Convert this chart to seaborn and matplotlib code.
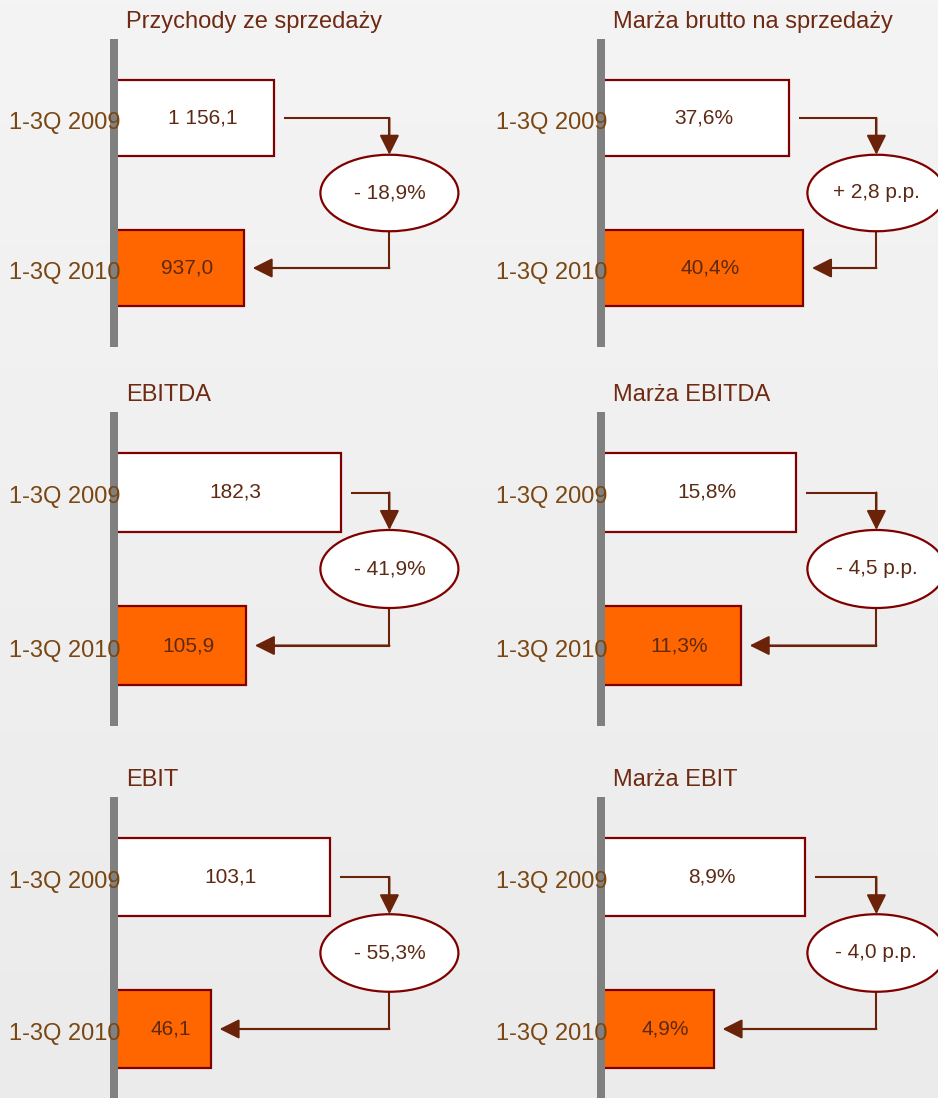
import numpy as np
import pandas as pd
import matplotlib
matplotlib.use("Agg")
import matplotlib.pyplot as plt
from matplotlib.colors import LinearSegmentedColormap
from matplotlib.patches import Ellipse
from matplotlib.transforms import blended_transform_factory, ScaledTranslation
import seaborn as sns

# ---- data -------------------------------------------------------------
periods = ["1-3Q 2009", "1-3Q 2010"]

titles = ["Przychody ze sprzedaży", "Marża brutto na sprzedaży",
          "EBITDA", "Marża EBITDA",
          "EBIT", "Marża EBIT"]
values_2009 = [1156.1, 37.6, 182.3, 15.8, 103.1, 8.9]
values_2010 = [937.0, 40.4, 105.9, 11.3, 46.1, 4.9]
value_labels_2009 = ["1 156,1", "37,6%", "182,3", "15,8%", "103,1", "8,9%"]
value_labels_2010 = ["937,0", "40,4%", "105,9", "11,3%", "46,1", "4,9%"]
change_labels = ["- 18,9%", "+ 2,8 p.p.", "- 41,9%", "- 4,5 p.p.", "- 55,3%", "- 4,0 p.p."]

# upper end of the value axis of every panel
axis_max = [2457, 68.0, 273, 27.5, 162.3, 14.8]

# ---- style ------------------------------------------------------------
sns.set_theme(style="white")
plt.rcParams["font.family"] = ["Liberation Sans", "DejaVu Sans"]

BAR_EDGE = "#800000"
ORANGE = "#FF6600"
ARROW = "#6A2208"
TITLE_C = "#6E2A12"
TICK_C = "#7A4612"
VALUE_C = "#5C2A14"
SPINE_C = "#808080"

FIG_W, FIG_H = 938, 1098
AX_W = 340
col_x0 = [114, 601]
row_top = [43, 416, 801]
row_h = [300, 306, 304]

fig = plt.figure(figsize=(FIG_W / 100, FIG_H / 100), dpi=100)

# soft grey backdrop
bg = fig.add_axes([0, 0, 1, 1], zorder=-10)
grad = np.linspace(0, 1, 256).reshape(-1, 1)
bg_cmap = LinearSegmentedColormap.from_list("bg", ["#EBEBEB", "#F4F4F4"])
bg.imshow(grad, aspect="auto", cmap=bg_cmap, origin="lower", extent=[0, 1, 0, 1])
bg.set_axis_off()

px = 0.72  # points per pixel at 100 dpi
label_shift = ScaledTranslation(0, -2.5 / 100, fig.dpi_scale_trans)

for i, title in enumerate(titles):
    r, c = divmod(i, 2)
    left = col_x0[c] / FIG_W
    bottom = 1 - (row_top[r] + row_h[r]) / FIG_H
    ax = fig.add_axes([left, bottom, AX_W / FIG_W, row_h[r] / FIG_H])
    ax.patch.set_alpha(0)

    v09, v10 = values_2009[i], values_2010[i]
    df = pd.DataFrame({"period": periods, "value": [v09, v10]})
    sns.barplot(data=df, x="value", y="period", hue="period",
                palette=["white", ORANGE], saturation=1,
                edgecolor=BAR_EDGE, linewidth=1.6, width=0.51,
                orient="h", legend=False, ax=ax)

    xmax = axis_max[i]
    ax.set_xlim(0, xmax)
    ax.set_ylim(1.5, -0.5)
    ax.set_xticks([])
    ax.set_xlabel("")
    ax.set_ylabel("")
    for side in ("top", "right", "bottom"):
        ax.spines[side].set_visible(False)
    ax.spines["left"].set_color(SPINE_C)
    ax.spines["left"].set_linewidth(8 * px)
    ax.tick_params(axis="y", length=0, pad=-5, labelsize=17, labelcolor=TICK_C)
    ax.yaxis.set_zorder(5)
    for lab in ax.get_yticklabels():
        lab.set_transform(lab.get_transform() + label_shift)

    # panel title
    ax.annotate(title, xy=(0, 1), xycoords="axes fraction",
                xytext=(12 * px, 21 * px), textcoords="offset points",
                ha="left", va="center", fontsize=17, color=TITLE_C)

    # values inside the bars
    for yi, (v, lab) in enumerate([(v09, value_labels_2009[i]), (v10, value_labels_2010[i])]):
        ax.annotate(lab, xy=(v / 2, yi), xycoords="data",
                    xytext=(6, 0), textcoords="offset points",
                    ha="center", va="center", fontsize=15, color=VALUE_C, zorder=6)

    # change bubble and connectors
    trans = blended_transform_factory(ax.transAxes, ax.transData)
    xa = 0.81
    e_h = 0.51
    ell = Ellipse((xa, 0.5), width=138 / AX_W, height=e_h, transform=trans,
                  facecolor="white", edgecolor=BAR_EDGE, linewidth=1.6,
                  zorder=4, clip_on=False)
    ax.add_patch(ell)
    ax.text(xa, 0.5, change_labels[i], transform=trans, ha="center", va="center",
            fontsize=15, color=VALUE_C, zorder=5)

    e_top = 0.5 - e_h / 2
    e_bot = 0.5 + e_h / 2
    xs = v09 / xmax + 10 / AX_W
    xe = v10 / xmax + 9 / AX_W
    head = "-|>,head_length=1.0,head_width=0.5"

    ax.plot([xs, xa, xa], [0, 0, e_top - 0.06], transform=trans, color=ARROW,
            lw=1.5, solid_joinstyle="miter", solid_capstyle="butt", zorder=3, clip_on=False)
    ax.annotate("", xy=(xa, e_top), xycoords=trans, xytext=(xa, 0), textcoords=trans,
                arrowprops=dict(arrowstyle=head, color=ARROW, lw=1.5,
                                shrinkA=0, shrinkB=0), zorder=3)

    ax.plot([xa, xa, xe + 0.04], [e_bot, 1, 1], transform=trans, color=ARROW,
            lw=1.5, solid_joinstyle="miter", solid_capstyle="butt", zorder=3, clip_on=False)
    ax.annotate("", xy=(xe, 1), xycoords=trans, xytext=(xa, 1), textcoords=trans,
                arrowprops=dict(arrowstyle=head, color=ARROW, lw=1.5,
                                shrinkA=0, shrinkB=0), zorder=3)

fig.savefig("out.png", dpi=100)
